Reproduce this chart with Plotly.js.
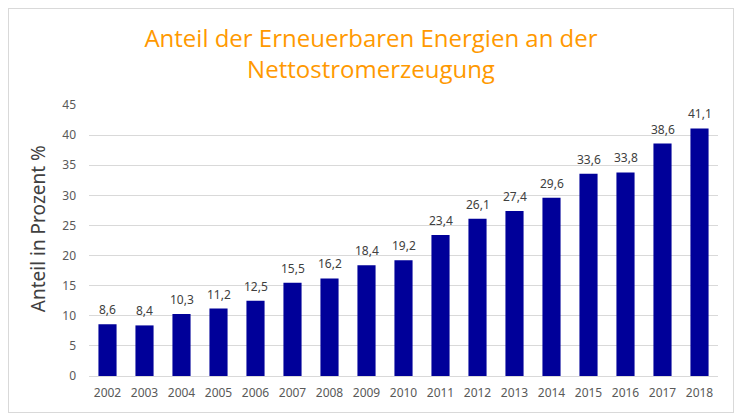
<!DOCTYPE html>
<html>
<head>
<meta charset="utf-8">
<script src="https://cdn.plot.ly/plotly-3.0.1.min.js"></script>
<style>
  body { margin: 0; background: #ffffff; }
  #chart {
    position: absolute;
    left: 8px;
    top: 8px;
    width: 724px;
    height: 403px;
    border: 1px solid #d9d9d9;
  }
</style>
</head>
<body>
<div id="chart"></div>
<script>
// Anteil erneuerbarer Energien an der Nettostromerzeugung (in %)
const years = ["2002", "2003", "2004", "2005", "2006", "2007", "2008", "2009", "2010",
  "2011", "2012", "2013", "2014", "2015", "2016", "2017", "2018"];
const shares = [8.6, 8.4, 10.3, 11.2, 12.5, 15.5, 16.2, 18.4, 19.2,
  23.4, 26.1, 27.4, 29.6, 33.6, 33.8, 38.6, 41.1];
const yTicks = [0, 5, 10, 15, 20, 25, 30, 35, 40, 45];

// German number format for the labels
const labels = shares.map(v => v.toFixed(1).replace(".", ","));

const labelFont = { family: "Noto Sans, sans-serif", size: 12, color: "#404040" };

const bars = {
  x: years,
  y: shares,
  type: "bar",
  marker: { color: "#000099" },
  hoverinfo: "x+y",
};

// value labels sit a bit higher above the bars than plotly's outside text
// (x is the category index, "2002" as a string would be read as a number)
const valueLabels = years.map((yr, i) => ({
  x: i,
  y: shares[i],
  text: labels[i],
  xref: "x",
  yref: "y",
  yanchor: "bottom",
  yshift: 4,
  showarrow: false,
  font: labelFont,
}));

const layout = {
  width: 724,
  height: 403,
  margin: { t: 96, l: 80, r: 15, b: 36 },
  paper_bgcolor: "#ffffff",
  plot_bgcolor: "#ffffff",
  showlegend: false,
  bargap: 0.51,
  title: {
    text: "Anteil der Erneuerbaren Energien an der<br>Nettostromerzeugung",
    font: { family: "Open Sans, sans-serif", size: 24, color: "#ff9900" },
    x: 0.5,
    xanchor: "center",
    y: 0.906,
    yanchor: "middle",
  },
  xaxis: {
    type: "category",
    showgrid: false,
    showline: false,
    ticks: "",
    ticklabelstandoff: 8,
    tickfont: { family: "Noto Sans, sans-serif", size: 12, color: "#595959" },
  },
  yaxis: {
    range: [0, 45],
    tickvals: yTicks,
    showgrid: true,
    gridcolor: "#d9d9d9",
    zeroline: true,
    zerolinecolor: "#d9d9d9",
    showline: false,
    ticks: "",
    ticklabelstandoff: 12,
    tickfont: { family: "Noto Sans, sans-serif", size: 12, color: "#595959" },
  },
  annotations: [{
    text: "Anteil in Prozent %",
    font: { family: "Noto Sans, sans-serif", size: 19, color: "#404040" },
    textangle: -90,
    xref: "paper",
    yref: "paper",
    x: -0.081,
    y: 0.542,
    xanchor: "center",
    yanchor: "middle",
    showarrow: false,
  }].concat(valueLabels),
};

Plotly.newPlot("chart", [bars], layout, { displayModeBar: false, staticPlot: true });
</script>
</body>
</html>
